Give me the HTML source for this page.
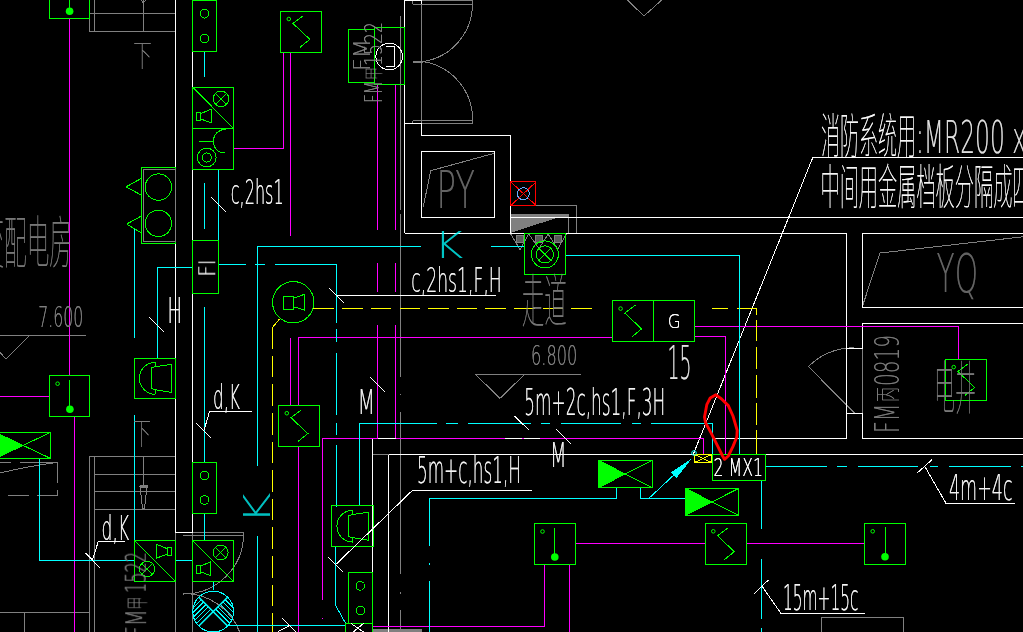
<!DOCTYPE html>
<html lang="zh"><head><meta charset="utf-8"><title>CAD</title>
<style>html,body{margin:0;padding:0;background:#000;overflow:hidden}svg{display:block}text{white-space:pre}</style>
</head><body>
<svg width="1023" height="632" viewBox="0 0 1023 632">
<defs><filter id="th" x="-5%" y="-5%" width="110%" height="110%"><feOffset dx="0.45" dy="0" result="o"/><feMerge><feMergeNode in="SourceGraphic"/><feMergeNode in="o"/></feMerge></filter></defs>
<rect width="1023" height="632" fill="#000"/>
<g shape-rendering="crispEdges" fill="none">
<line x1="89" y1="13.5" x2="176" y2="13.5" stroke="#808080" stroke-width="1"/>
<line x1="89" y1="31.5" x2="176" y2="31.5" stroke="#808080" stroke-width="1"/>
<line x1="89.5" y1="18.3" x2="89.5" y2="31.7" stroke="#808080" stroke-width="1"/>
<line x1="94.5" y1="0" x2="94.5" y2="31.7" stroke="#808080" stroke-width="1"/>
<line x1="143.5" y1="0" x2="143.5" y2="31.7" stroke="#808080" stroke-width="1"/>
<polyline points="141,0 143.3,3 145.8,0" fill="none" stroke="#808080" stroke-width="1"/>
<line x1="0" y1="335.5" x2="86" y2="335.5" stroke="#808080" stroke-width="1"/>
<polyline points="30,335 6,359 0,352.5" fill="none" stroke="#808080" stroke-width="1"/>
<line x1="400.5" y1="16" x2="400.5" y2="210" stroke="#808080" stroke-width="1"/>
<line x1="400.5" y1="213.7" x2="400.5" y2="377" stroke="#808080" stroke-width="1"/>
<line x1="400.5" y1="393.5" x2="400.5" y2="395" stroke="#808080" stroke-width="1"/>
<line x1="400.5" y1="412.2" x2="400.5" y2="574.4" stroke="#808080" stroke-width="1"/>
<line x1="400.5" y1="592" x2="400.5" y2="593.5" stroke="#808080" stroke-width="1"/>
<line x1="400.5" y1="609.7" x2="400.5" y2="632" stroke="#808080" stroke-width="1"/>
<line x1="421.5" y1="4" x2="421.5" y2="123.7" stroke="#808080" stroke-width="1"/>
<line x1="421.5" y1="0.5" x2="472.5" y2="0.5" stroke="#808080" stroke-width="1"/>
<line x1="412.7" y1="4.5" x2="472.5" y2="4.5" stroke="#808080" stroke-width="1"/>
<line x1="472.5" y1="0.7" x2="472.5" y2="4" stroke="#808080" stroke-width="1"/>
<line x1="412.5" y1="1" x2="412.5" y2="4" stroke="#808080" stroke-width="1"/>
<path d="M472.5,4 A58.3,58.3 0 0 1 423.1,61.6" fill="none" stroke="#808080" stroke-width="1"/>
<path d="M423.1,61.6 A58.3,58.3 0 0 1 472.5,120.8" fill="none" stroke="#808080" stroke-width="1"/>
<line x1="412.7" y1="120.5" x2="472.5" y2="120.5" stroke="#808080" stroke-width="1"/>
<line x1="472.5" y1="120.8" x2="472.5" y2="123" stroke="#808080" stroke-width="1"/>
<line x1="421.5" y1="123.5" x2="472.5" y2="123.5" stroke="#808080" stroke-width="1"/>
<line x1="412.5" y1="120.8" x2="412.5" y2="123.5" stroke="#808080" stroke-width="1"/>
<line x1="413.1" y1="61.6" x2="423.1" y2="61.6" stroke="#808080" stroke-width="2"/>
<polyline points="627.3,0 644,16 661.7,0" fill="none" stroke="#808080" stroke-width="1"/>
<polyline points="423.3,206.7 430.7,170.7 494.3,153.3" fill="none" stroke="#808080" stroke-width="1"/>
<rect x="510.5" y="205.5" width="66" height="28" fill="none" stroke="#808080" stroke-width="1"/>
<line x1="568.5" y1="214.5" x2="568.5" y2="233.4" stroke="#808080" stroke-width="1"/>
<polygon points="510.5,218.4 564,215 510.5,232.4" fill="#808080" stroke="#808080" stroke-width="1"/>
<rect x="510.5" y="214.5" width="58" height="2" fill="#808080" stroke="#808080" stroke-width="1"/>
<rect x="516.5" y="235.5" width="7" height="7" fill="#5a5a5a" stroke="#808080" stroke-width="1"/>
<rect x="535.5" y="235.5" width="7" height="7" fill="#5a5a5a" stroke="#808080" stroke-width="1"/>
<rect x="554.5" y="235.5" width="7" height="7" fill="#5a5a5a" stroke="#808080" stroke-width="1"/>
<polyline points="510.4,233.4 520.1,249.6 528.7,234.1 539,248.5 548.1,234.1 557.7,249.1 566.3,234.1" fill="none" stroke="#808080" stroke-width="1"/>
<line x1="475" y1="374.5" x2="580.7" y2="374.5" stroke="#808080" stroke-width="1"/>
<polyline points="475,374 500,398.3 525,374" fill="none" stroke="#808080" stroke-width="1"/>
<polyline points="862.7,305.5 880,253 1023,236.8" fill="none" stroke="#808080" stroke-width="1"/>
<line x1="862.5" y1="348.2" x2="862.5" y2="413.6" stroke="#808080" stroke-width="1"/>
<line x1="808.4" y1="366.6" x2="854.3" y2="412.8" stroke="#808080" stroke-width="1"/>
<path d="M808.4,366.6 A65,65 0 0 1 854.3,347.8" fill="none" stroke="#808080" stroke-width="1"/>
<path d="M0,472.8 Q29,466 57.2,462.3" fill="none" stroke="#808080" stroke-width="1"/>
<line x1="0" y1="462.5" x2="11.4" y2="462.5" stroke="#808080" stroke-width="1"/>
<line x1="20.2" y1="462.5" x2="57.2" y2="462.5" stroke="#808080" stroke-width="1"/>
<line x1="57.5" y1="462.2" x2="57.5" y2="483.3" stroke="#808080" stroke-width="1"/>
<line x1="57.5" y1="490.4" x2="57.5" y2="495.7" stroke="#808080" stroke-width="1"/>
<line x1="7.9" y1="495.5" x2="29" y2="495.5" stroke="#808080" stroke-width="1"/>
<line x1="37" y1="495.5" x2="57.2" y2="495.5" stroke="#808080" stroke-width="1"/>
<line x1="89.5" y1="456.4" x2="89.5" y2="632" stroke="#808080" stroke-width="1"/>
<line x1="94.5" y1="456.4" x2="94.5" y2="632" stroke="#808080" stroke-width="1"/>
<line x1="89.7" y1="456.5" x2="175.4" y2="456.5" stroke="#808080" stroke-width="1"/>
<line x1="94.7" y1="474.5" x2="175.4" y2="474.5" stroke="#808080" stroke-width="1"/>
<line x1="94.7" y1="491.5" x2="175.4" y2="491.5" stroke="#808080" stroke-width="1"/>
<line x1="94.7" y1="509.5" x2="175.4" y2="509.5" stroke="#808080" stroke-width="1"/>
<line x1="143.5" y1="456.4" x2="143.5" y2="486" stroke="#808080" stroke-width="1"/>
<polygon points="140,486.5 147,486.5 144.5,508.5 142.5,508.5" fill="none" stroke="#808080" stroke-width="1"/>
<rect x="140.5" y="485.5" width="7" height="2" fill="none" stroke="#808080" stroke-width="1"/>
<line x1="0" y1="612.5" x2="89.5" y2="612.5" stroke="#808080" stroke-width="1"/>
<line x1="24.5" y1="612.8" x2="24.5" y2="632" stroke="#808080" stroke-width="1"/>
<line x1="192.4" y1="532.5" x2="243.6" y2="532.5" stroke="#808080" stroke-width="1"/>
<line x1="183" y1="535.5" x2="243.6" y2="535.5" stroke="#808080" stroke-width="1"/>
<line x1="243.5" y1="532.4" x2="243.5" y2="535" stroke="#808080" stroke-width="1"/>
<line x1="175.5" y1="532" x2="175.5" y2="632" stroke="#808080" stroke-width="1"/>
<line x1="192.5" y1="532.4" x2="192.5" y2="632" stroke="#808080" stroke-width="1"/>
<path d="M243.6,535 A60,60 0 0 1 183.5,594" fill="none" stroke="#808080" stroke-width="1"/>
<path d="M183.5,593.5 A60,60 0 0 1 239.7,632" fill="none" stroke="#808080" stroke-width="1"/>
<rect x="372.5" y="629.5" width="49" height="4" fill="#808080" stroke="#808080" stroke-width="1"/>
<polyline points="821.5,632 821.5,617.5 903.5,617.5 903.5,632" fill="none" stroke="#808080" stroke-width="1"/>
<line x1="372.5" y1="454.5" x2="388.6" y2="454.5" stroke="#808080" stroke-width="1"/>
<line x1="175.5" y1="0" x2="175.5" y2="420" stroke="#ffffff" stroke-width="1"/>
<line x1="192.5" y1="0" x2="192.5" y2="420" stroke="#ffffff" stroke-width="1"/>
<polyline points="175.5,420 175.5,532.5 192.5,532.5 192.5,420" fill="none" stroke="#ffffff" stroke-width="1"/>
<polyline points="404.5,233.4 404.5,0.5 421.5,0.5 421.5,4" fill="none" stroke="#ffffff" stroke-width="1"/>
<line x1="404.5" y1="123.5" x2="421.5" y2="123.5" stroke="#ffffff" stroke-width="1"/>
<polyline points="421.5,123.7 421.5,135.5 510.5,135.5 510.5,233.4" fill="none" stroke="#ffffff" stroke-width="1"/>
<line x1="404.5" y1="233.5" x2="846.9" y2="233.5" stroke="#ffffff" stroke-width="1"/>
<rect x="421.5" y="151.5" width="73" height="66" fill="none" stroke="#ffffff" stroke-width="1"/>
<line x1="510.4" y1="217.5" x2="1023" y2="217.5" stroke="#ffffff" stroke-width="1"/>
<line x1="846.5" y1="233.5" x2="846.5" y2="438.5" stroke="#ffffff" stroke-width="1"/>
<line x1="713" y1="438.5" x2="846.9" y2="438.5" stroke="#ffffff" stroke-width="1"/>
<polyline points="1023,233.5 862.5,233.5 862.5,307.5 1023,307.5" fill="none" stroke="#ffffff" stroke-width="1"/>
<polyline points="1023,323.5 862.5,323.5 862.5,348.2" fill="none" stroke="#ffffff" stroke-width="1"/>
<line x1="846.9" y1="348.5" x2="862.7" y2="348.5" stroke="#ffffff" stroke-width="1"/>
<line x1="846.9" y1="413.5" x2="862.7" y2="413.5" stroke="#ffffff" stroke-width="1"/>
<polyline points="862.5,413.6 862.5,438.5 1023,438.5" fill="none" stroke="#ffffff" stroke-width="1"/>
<line x1="388.6" y1="454.5" x2="1023" y2="454.5" stroke="#ffffff" stroke-width="1"/>
<line x1="372.5" y1="438.5" x2="372.5" y2="632" stroke="#ffffff" stroke-width="1"/>
<line x1="388.5" y1="454.5" x2="388.5" y2="632" stroke="#ffffff" stroke-width="1"/>
<circle cx="389.2" cy="56.5" r="13.3" fill="none" stroke="#ffffff" stroke-width="1"/>
<polyline points="385.9,46.5 394.5,46.5 394.5,66.5 385.9,66.5" fill="none" stroke="#ffffff" stroke-width="1"/>
<line x1="813" y1="157.5" x2="1023" y2="157.5" stroke="#ffffff" stroke-width="1"/>
<line x1="813" y1="157" x2="693" y2="455" stroke="#ffffff" stroke-width="1"/>
<line x1="69.5" y1="18" x2="69.5" y2="375.7" stroke="#ff00ff" stroke-width="1"/>
<polyline points="234,148.5 283.5,148.5 283.5,52.7" fill="none" stroke="#ff00ff" stroke-width="1"/>
<line x1="290.5" y1="52.7" x2="290.5" y2="236" stroke="#ff00ff" stroke-width="1"/>
<line x1="290.5" y1="337.5" x2="290.5" y2="405.2" stroke="#ff00ff" stroke-width="1"/>
<polyline points="298.5,405.2 298.5,337.5 613.3,337.5" fill="none" stroke="#ff00ff" stroke-width="1"/>
<line x1="0" y1="396.5" x2="49.3" y2="396.5" stroke="#ff00ff" stroke-width="1"/>
<line x1="74.5" y1="416.7" x2="74.5" y2="632" stroke="#ff00ff" stroke-width="1"/>
<line x1="377.5" y1="84.7" x2="377.5" y2="229.6" stroke="#ff00ff" stroke-width="1"/>
<line x1="377.5" y1="263" x2="377.5" y2="291.9" stroke="#ff00ff" stroke-width="1"/>
<line x1="377.5" y1="325" x2="377.5" y2="438.5" stroke="#ff00ff" stroke-width="1"/>
<line x1="395.5" y1="84.7" x2="395.5" y2="229.6" stroke="#ff00ff" stroke-width="1"/>
<line x1="395.5" y1="263" x2="395.5" y2="291.9" stroke="#ff00ff" stroke-width="1"/>
<line x1="395.5" y1="325" x2="395.5" y2="438.5" stroke="#ff00ff" stroke-width="1"/>
<polyline points="340,438.5 703.5,438.5 703.5,453.5" fill="none" stroke="#ff00ff" stroke-width="1"/>
<line x1="298.5" y1="446.2" x2="298.5" y2="632" stroke="#ff00ff" stroke-width="1"/>
<polyline points="340,438.5 322.5,438.5 322.5,600" fill="none" stroke="#ff00ff" stroke-width="1"/>
<line x1="322.5" y1="617.5" x2="322.5" y2="619" stroke="#ff00ff" stroke-width="1"/>
<polyline points="694.8,326.5 958.5,326.5 958.5,359.1" fill="none" stroke="#ff00ff" stroke-width="1"/>
<polyline points="694.4,336.5 725.5,336.5 725.5,453.5" fill="none" stroke="#ff00ff" stroke-width="1"/>
<line x1="575.7" y1="543.5" x2="705" y2="543.5" stroke="#ff00ff" stroke-width="1"/>
<polyline points="544.5,564.9 544.5,626.5 372.5,626.5" fill="none" stroke="#ff00ff" stroke-width="1"/>
<line x1="569.5" y1="564.9" x2="569.5" y2="632" stroke="#ff00ff" stroke-width="1"/>
<line x1="746.4" y1="543.5" x2="864.4" y2="543.5" stroke="#ff00ff" stroke-width="1"/>
<line x1="313" y1="308.5" x2="333.6" y2="308.5" stroke="#ffff00" stroke-width="1"/>
<line x1="342.2" y1="308.5" x2="362.8" y2="308.5" stroke="#ffff00" stroke-width="1"/>
<line x1="370.8" y1="308.5" x2="391.4" y2="308.5" stroke="#ffff00" stroke-width="1"/>
<line x1="399.5" y1="308.5" x2="420.1" y2="308.5" stroke="#ffff00" stroke-width="1"/>
<line x1="428.1" y1="308.5" x2="448.7" y2="308.5" stroke="#ffff00" stroke-width="1"/>
<line x1="456.8" y1="308.5" x2="477.4" y2="308.5" stroke="#ffff00" stroke-width="1"/>
<line x1="485.4" y1="308.5" x2="506" y2="308.5" stroke="#ffff00" stroke-width="1"/>
<line x1="514.1" y1="308.5" x2="534.7" y2="308.5" stroke="#ffff00" stroke-width="1"/>
<line x1="542.7" y1="308.5" x2="563.3" y2="308.5" stroke="#ffff00" stroke-width="1"/>
<line x1="571.4" y1="308.5" x2="592" y2="308.5" stroke="#ffff00" stroke-width="1"/>
<line x1="712.3" y1="308.5" x2="728" y2="308.5" stroke="#ffff00" stroke-width="1"/>
<line x1="736.5" y1="308.5" x2="756.7" y2="308.5" stroke="#ffff00" stroke-width="1"/>
<line x1="756.5" y1="308.3" x2="756.5" y2="314.8" stroke="#ffff00" stroke-width="1"/>
<line x1="756.5" y1="320.4" x2="756.5" y2="341.1" stroke="#ffff00" stroke-width="1"/>
<line x1="756.5" y1="347" x2="756.5" y2="368.6" stroke="#ffff00" stroke-width="1"/>
<line x1="756.5" y1="374.7" x2="756.5" y2="397.6" stroke="#ffff00" stroke-width="1"/>
<line x1="756.5" y1="402.5" x2="756.5" y2="424.5" stroke="#ffff00" stroke-width="1"/>
<line x1="756.5" y1="429.9" x2="756.5" y2="453.5" stroke="#ffff00" stroke-width="1"/>
<polyline points="279.3,319.3 272.5,327.3" fill="none" stroke="#ffff00" stroke-width="1"/>
<line x1="272.5" y1="327.2" x2="272.5" y2="348.7" stroke="#ffff00" stroke-width="1"/>
<line x1="272.5" y1="355.8" x2="272.5" y2="377.3" stroke="#ffff00" stroke-width="1"/>
<line x1="272.5" y1="384.4" x2="272.5" y2="405.9" stroke="#ffff00" stroke-width="1"/>
<line x1="272.5" y1="413" x2="272.5" y2="434.5" stroke="#ffff00" stroke-width="1"/>
<line x1="272.5" y1="441.6" x2="272.5" y2="463.1" stroke="#ffff00" stroke-width="1"/>
<line x1="272.5" y1="470.2" x2="272.5" y2="491.7" stroke="#ffff00" stroke-width="1"/>
<line x1="272.5" y1="498.8" x2="272.5" y2="520.3" stroke="#ffff00" stroke-width="1"/>
<line x1="272.5" y1="527.4" x2="272.5" y2="548.9" stroke="#ffff00" stroke-width="1"/>
<line x1="272.5" y1="556" x2="272.5" y2="577.5" stroke="#ffff00" stroke-width="1"/>
<line x1="272.5" y1="584.6" x2="272.5" y2="606.1" stroke="#ffff00" stroke-width="1"/>
<line x1="272.5" y1="613.2" x2="272.5" y2="632" stroke="#ffff00" stroke-width="1"/>
<rect x="694.5" y="454.5" width="17" height="8" fill="none" stroke="#ffff00" stroke-width="1"/>
<line x1="694.5" y1="454.5" x2="711.5" y2="462.5" stroke="#ffff00" stroke-width="1"/>
<line x1="694.5" y1="462.5" x2="711.5" y2="454.5" stroke="#ffff00" stroke-width="1"/>
<line x1="204.5" y1="52" x2="204.5" y2="76.7" stroke="#00ffff" stroke-width="1"/>
<line x1="204.5" y1="183" x2="204.5" y2="229.4" stroke="#00ffff" stroke-width="1"/>
<line x1="218.5" y1="169" x2="218.5" y2="240.2" stroke="#00ffff" stroke-width="1"/>
<line x1="134.5" y1="229.4" x2="134.5" y2="338.3" stroke="#00ffff" stroke-width="1"/>
<line x1="134.5" y1="415" x2="134.5" y2="560.2" stroke="#00ffff" stroke-width="1"/>
<polyline points="193.3,267.5 157.5,267.5 157.5,358.3" fill="none" stroke="#00ffff" stroke-width="1"/>
<line x1="204.5" y1="306.7" x2="204.5" y2="462" stroke="#00ffff" stroke-width="1"/>
<line x1="204.5" y1="513.2" x2="204.5" y2="540" stroke="#00ffff" stroke-width="1"/>
<polyline points="257.5,466 257.5,246.5 421,246.5" fill="none" stroke="#00ffff" stroke-width="1"/>
<line x1="257.5" y1="535.8" x2="257.5" y2="632" stroke="#00ffff" stroke-width="1"/>
<line x1="491" y1="246.5" x2="524.4" y2="246.5" stroke="#00ffff" stroke-width="1"/>
<line x1="219" y1="264.5" x2="245.7" y2="264.5" stroke="#00ffff" stroke-width="1"/>
<line x1="254.7" y1="264.5" x2="265.2" y2="264.5" stroke="#00ffff" stroke-width="1"/>
<polyline points="274.7,264.5 336.5,264.5 336.5,323" fill="none" stroke="#00ffff" stroke-width="1"/>
<line x1="336.5" y1="329" x2="336.5" y2="342" stroke="#00ffff" stroke-width="1"/>
<line x1="336.5" y1="352.5" x2="336.5" y2="414.5" stroke="#00ffff" stroke-width="1"/>
<line x1="336.5" y1="423.4" x2="336.5" y2="435" stroke="#00ffff" stroke-width="1"/>
<line x1="336.5" y1="445" x2="336.5" y2="506.5" stroke="#00ffff" stroke-width="1"/>
<polyline points="565.7,255.5 739.5,255.5 739.5,453.5" fill="none" stroke="#00ffff" stroke-width="1"/>
<polyline points="39.5,458 39.5,560.5 134,560.5" fill="none" stroke="#00ffff" stroke-width="1"/>
<line x1="175.4" y1="560.5" x2="192.2" y2="560.5" stroke="#00ffff" stroke-width="1"/>
<line x1="213.5" y1="581.6" x2="213.5" y2="590" stroke="#00ffff" stroke-width="1"/>
<circle cx="213.2" cy="611.6" r="20.4" fill="none" stroke="#00ffff" stroke-width="1"/>
<g shape-rendering="auto">
<line x1="198.8" y1="597.2" x2="227.6" y2="626" stroke="#00ffff" stroke-width="1.6"/>
<line x1="198.8" y1="626" x2="227.6" y2="597.2" stroke="#00ffff" stroke-width="1.6"/>
<line x1="210.8" y1="609.2" x2="196.6" y2="623.4" stroke="#00ffff" stroke-width="1" shape-rendering="crispEdges"/>
<line x1="215.6" y1="609.2" x2="229.8" y2="623.4" stroke="#00ffff" stroke-width="1" shape-rendering="crispEdges"/>
<line x1="208.4" y1="606.8" x2="194.8" y2="620.4" stroke="#00ffff" stroke-width="1" shape-rendering="crispEdges"/>
<line x1="218" y1="606.8" x2="231.6" y2="620.4" stroke="#00ffff" stroke-width="1" shape-rendering="crispEdges"/>
<line x1="206" y1="604.4" x2="193.5" y2="616.9" stroke="#00ffff" stroke-width="1" shape-rendering="crispEdges"/>
<line x1="220.4" y1="604.4" x2="232.9" y2="616.9" stroke="#00ffff" stroke-width="1" shape-rendering="crispEdges"/>
<line x1="203.6" y1="602" x2="192.8" y2="612.7" stroke="#00ffff" stroke-width="1" shape-rendering="crispEdges"/>
<line x1="222.8" y1="602" x2="233.6" y2="612.7" stroke="#00ffff" stroke-width="1" shape-rendering="crispEdges"/>
<line x1="201.2" y1="599.6" x2="193.2" y2="607.6" stroke="#00ffff" stroke-width="1" shape-rendering="crispEdges"/>
<line x1="225.2" y1="599.6" x2="233.2" y2="607.6" stroke="#00ffff" stroke-width="1" shape-rendering="crispEdges"/>
</g>
<line x1="228.5" y1="625.5" x2="345.6" y2="625.5" stroke="#00ffff" stroke-width="1"/>
<polyline points="335.5,546.4 335.5,605.2 346.1,624.3" fill="none" stroke="#00ffff" stroke-width="1"/>
<polyline points="359.5,505.9 359.5,423.5 437.3,423.5" fill="none" stroke="#00ffff" stroke-width="1"/>
<line x1="446.1" y1="423.5" x2="457.9" y2="423.5" stroke="#00ffff" stroke-width="1"/>
<line x1="468.1" y1="423.5" x2="531.2" y2="423.5" stroke="#00ffff" stroke-width="1"/>
<line x1="541.4" y1="423.5" x2="550.2" y2="423.5" stroke="#00ffff" stroke-width="1"/>
<line x1="560.5" y1="423.5" x2="620.6" y2="423.5" stroke="#00ffff" stroke-width="1"/>
<line x1="632.3" y1="423.5" x2="641.1" y2="423.5" stroke="#00ffff" stroke-width="1"/>
<polyline points="651.4,423.5 712.5,423.5 712.5,454.6" fill="none" stroke="#00ffff" stroke-width="1"/>
<line x1="429.5" y1="498" x2="429.5" y2="546.4" stroke="#00ffff" stroke-width="1"/>
<line x1="429.5" y1="563.3" x2="429.5" y2="565" stroke="#00ffff" stroke-width="1"/>
<line x1="429.5" y1="580.8" x2="429.5" y2="632" stroke="#00ffff" stroke-width="1"/>
<polyline points="429.5,498.5 616.5,498.5 616.5,488" fill="none" stroke="#00ffff" stroke-width="1"/>
<polyline points="640.5,488 640.5,498.5 686,498.5" fill="none" stroke="#00ffff" stroke-width="1"/>
<line x1="648.5" y1="498.7" x2="691.2" y2="458.8" stroke="#00ffff" stroke-width="1"/>
<polygon points="692,458.2 670.8,472.4 676.4,478.2" fill="#00ffff" stroke="none"/>
<circle cx="694" cy="453" r="2.3" fill="none" stroke="#00ffff" stroke-width="1" shape-rendering="auto"/>
<line x1="765.7" y1="466.5" x2="826.6" y2="466.5" stroke="#00ffff" stroke-width="1"/>
<line x1="836.8" y1="466.5" x2="846.5" y2="466.5" stroke="#00ffff" stroke-width="1"/>
<line x1="857.6" y1="466.5" x2="918.4" y2="466.5" stroke="#00ffff" stroke-width="1"/>
<line x1="929.5" y1="466.5" x2="938.3" y2="466.5" stroke="#00ffff" stroke-width="1"/>
<line x1="948.9" y1="466.5" x2="1011.1" y2="466.5" stroke="#00ffff" stroke-width="1"/>
<line x1="1020.8" y1="466.5" x2="1023" y2="466.5" stroke="#00ffff" stroke-width="1"/>
<line x1="761.5" y1="480.3" x2="761.5" y2="529.3" stroke="#00ffff" stroke-width="1"/>
<line x1="761.5" y1="558.7" x2="761.5" y2="618.5" stroke="#00ffff" stroke-width="1"/>
<line x1="761.5" y1="627.9" x2="761.5" y2="632" stroke="#00ffff" stroke-width="1"/>
<rect x="49.5" y="-22.5" width="40" height="41" fill="none" stroke="#00ff00" stroke-width="1"/>
<line x1="69.5" y1="-18.2" x2="69.5" y2="8.8" stroke="#00ff00" stroke-width="1"/>
<circle cx="69.6" cy="11.3" r="3.8" fill="#00ff00" shape-rendering="auto"/>
<circle cx="57.3" cy="-14.2" r="1.8" fill="none" stroke="#00ff00" stroke-width="1" shape-rendering="auto"/>
<rect x="192.5" y="0.5" width="24" height="51" fill="none" stroke="#00ff00" stroke-width="1"/>
<circle cx="204.5" cy="13.8" r="4.3" fill="none" stroke="#00ff00" stroke-width="1"/>
<circle cx="204.5" cy="38.5" r="4.3" fill="none" stroke="#00ff00" stroke-width="1"/>
<rect x="280.5" y="11.5" width="41" height="41" fill="none" stroke="#00ff00" stroke-width="1"/>
<circle cx="288.8" cy="19" r="1.8" fill="none" stroke="#00ff00" stroke-width="1" shape-rendering="auto"/>
<polyline points="303.5,15.5 293,23.5 309.8,39.3 299.8,47.5" fill="none" stroke="#00ff00" stroke-width="1"/>
<rect x="192.5" y="87.5" width="41" height="41" fill="none" stroke="#00ff00" stroke-width="1"/>
<line x1="192.7" y1="87.3" x2="233.7" y2="128.5" stroke="#00ff00" stroke-width="1"/>
<circle cx="221" cy="98.8" r="7.8" fill="none" stroke="#00ff00" stroke-width="1"/>
<line x1="215.5" y1="93.3" x2="226.5" y2="104.3" stroke="#00ff00" stroke-width="1"/>
<line x1="215.5" y1="104.3" x2="226.5" y2="93.3" stroke="#00ff00" stroke-width="1"/>
<polygon points="196.5,112.5 200.5,112.5 200.5,120.5 196.5,120.5" fill="none" stroke="#00ff00" stroke-width="1"/>
<polyline points="200.7,113.6 211.5,109.1 211.5,122.9 200.7,119" fill="none" stroke="#00ff00" stroke-width="1"/>
<rect x="192.5" y="128.5" width="41" height="41" fill="none" stroke="#00ff00" stroke-width="1"/>
<line x1="198.9" y1="141.5" x2="212.9" y2="141.5" stroke="#00ff00" stroke-width="1"/>
<path d="M226.3,129.5 A12,12 0 0 0 221,152.7 L225,152.7" fill="none" stroke="#00ff00" stroke-width="1"/>
<circle cx="206.7" cy="157.5" r="9.4" fill="none" stroke="#00ff00" stroke-width="1"/>
<circle cx="206.7" cy="157.5" r="4.6" fill="none" stroke="#00ff00" stroke-width="1"/>
<rect x="141.5" y="167.5" width="34" height="76" fill="none" stroke="#00ff00" stroke-width="1"/>
<rect x="143.5" y="169.5" width="32" height="72" fill="none" stroke="#808080" stroke-width="1"/>
<circle cx="158.4" cy="187.1" r="13.2" fill="none" stroke="#00ff00" stroke-width="1"/>
<circle cx="158.4" cy="223.4" r="13.2" fill="none" stroke="#00ff00" stroke-width="1"/>
<polyline points="141.5,178.3 126,186.9 141.5,195.2" fill="none" stroke="#00ff00" stroke-width="1"/>
<polyline points="141.5,216 126.7,224 141.5,233" fill="none" stroke="#00ff00" stroke-width="1"/>
<rect x="192.5" y="240.5" width="26" height="53" fill="none" stroke="#00ff00" stroke-width="1"/>
<circle cx="293.3" cy="302.3" r="20.7" fill="none" stroke="#00ff00" stroke-width="1"/>
<polygon points="283.5,296.5 293.5,296.5 293.5,309.5 283.5,309.5" fill="none" stroke="#00ff00" stroke-width="1"/>
<polyline points="293.3,298.3 304.5,294.3 304.5,310 293.3,306.7" fill="none" stroke="#00ff00" stroke-width="1"/>
<rect x="49.5" y="375.5" width="40" height="41" fill="none" stroke="#00ff00" stroke-width="1"/>
<line x1="69.5" y1="379.7" x2="69.5" y2="406.7" stroke="#00ff00" stroke-width="1"/>
<circle cx="69.9" cy="409.2" r="3.8" fill="#00ff00" shape-rendering="auto"/>
<circle cx="57.6" cy="383.7" r="1.8" fill="none" stroke="#00ff00" stroke-width="1" shape-rendering="auto"/>
<rect x="134.5" y="358.5" width="41" height="40" fill="none" stroke="#00ff00" stroke-width="1"/>
<path d="M155.4,362.3 A16,16 0 0 0 155.4,394.3" fill="none" stroke="#00ff00" stroke-width="1"/>
<polyline points="155.5,362.3 155.5,366.7 151.5,367.8 151.5,388.7 155.5,389.8 155.5,394.3" fill="none" stroke="#00ff00" stroke-width="1"/>
<polyline points="155.4,366.7 171.5,364.3 171.5,392.4 155.4,389.8" fill="none" stroke="#00ff00" stroke-width="1"/>
<rect x="278.5" y="405.5" width="41" height="41" fill="none" stroke="#00ff00" stroke-width="1"/>
<circle cx="286.8" cy="413.2" r="1.8" fill="none" stroke="#00ff00" stroke-width="1" shape-rendering="auto"/>
<polyline points="301.5,409.7 291,417.7 307.8,433.5 297.8,441.7" fill="none" stroke="#00ff00" stroke-width="1"/>
<rect x="348.5" y="29.5" width="26" height="53" fill="none" stroke="#00ff00" stroke-width="1"/>
<rect x="374.5" y="27.5" width="30" height="57" fill="none" stroke="#00ff00" stroke-width="1"/>
<rect x="510.5" y="181.5" width="25" height="24" fill="none" stroke="#ff0000" stroke-width="1"/>
<line x1="510.9" y1="181.9" x2="536.1" y2="205.5" stroke="#ff0000" stroke-width="1"/>
<line x1="510.9" y1="205.5" x2="536.1" y2="181.9" stroke="#ff0000" stroke-width="1"/>
<circle cx="523.3" cy="193.7" r="6" fill="none" stroke="#66aaff" stroke-width="1"/>
<rect x="524.5" y="233.5" width="41" height="41" fill="none" stroke="#00ff00" stroke-width="1"/>
<circle cx="544.9" cy="254.4" r="13.5" fill="none" stroke="#00ff00" stroke-width="1"/>
<circle cx="544.9" cy="254.4" r="8.6" fill="none" stroke="#00ff00" stroke-width="1"/>
<line x1="538.8" y1="248.3" x2="551" y2="260.5" stroke="#00ff00" stroke-width="1"/>
<line x1="538.8" y1="260.5" x2="551" y2="248.3" stroke="#00ff00" stroke-width="1"/>
<rect x="612.5" y="300.5" width="41" height="41" fill="none" stroke="#00ff00" stroke-width="1"/>
<circle cx="620.6" cy="308.6" r="1.8" fill="none" stroke="#00ff00" stroke-width="1" shape-rendering="auto"/>
<polyline points="635.3,305.1 624.8,313.1 641.6,328.9 631.6,337.1" fill="none" stroke="#00ff00" stroke-width="1"/>
<rect x="653.5" y="300.5" width="41" height="41" fill="none" stroke="#00ff00" stroke-width="1"/>
<rect x="945.5" y="359.5" width="41" height="41" fill="none" stroke="#00ff00" stroke-width="1"/>
<circle cx="953.7" cy="367.1" r="1.8" fill="none" stroke="#00ff00" stroke-width="1" shape-rendering="auto"/>
<polyline points="968.4,363.6 957.9,371.6 974.7,387.4 964.7,395.6" fill="none" stroke="#00ff00" stroke-width="1"/>
<rect x="-4.5" y="432.5" width="55" height="26" fill="none" stroke="#00ff00" stroke-width="1"/>
<line x1="-4.6" y1="432.3" x2="50.7" y2="458.5" stroke="#00ff00" stroke-width="1"/>
<line x1="-4.6" y1="458.5" x2="50.7" y2="432.3" stroke="#00ff00" stroke-width="1"/>
<polygon points="-4.5,432.3 23,445.4 -4.5,458.5" fill="#00ff00" stroke="#00ff00" stroke-width="1"/>
<rect x="192.5" y="462.5" width="24" height="51" fill="none" stroke="#00ff00" stroke-width="1"/>
<circle cx="204.5" cy="475.3" r="4.3" fill="none" stroke="#00ff00" stroke-width="1"/>
<circle cx="204.5" cy="500" r="4.3" fill="none" stroke="#00ff00" stroke-width="1"/>
<rect x="134.5" y="540.5" width="41" height="41" fill="none" stroke="#00ff00" stroke-width="1"/>
<line x1="134" y1="540" x2="175.4" y2="581.6" stroke="#00ff00" stroke-width="1"/>
<circle cx="147.1" cy="568.9" r="7.6" fill="none" stroke="#00ff00" stroke-width="1"/>
<line x1="141.7" y1="563.5" x2="152.5" y2="574.3" stroke="#00ff00" stroke-width="1"/>
<line x1="141.7" y1="574.3" x2="152.5" y2="563.5" stroke="#00ff00" stroke-width="1"/>
<polygon points="171.5,547.5 167.5,547.5 167.5,555.5 171.5,555.5" fill="none" stroke="#00ff00" stroke-width="1"/>
<polyline points="167.5,548.8 156.5,544.3 156.5,558.1 167.5,554.2" fill="none" stroke="#00ff00" stroke-width="1"/>
<rect x="192.5" y="540.5" width="41" height="41" fill="none" stroke="#00ff00" stroke-width="1"/>
<line x1="192.2" y1="540" x2="233.7" y2="581.6" stroke="#00ff00" stroke-width="1"/>
<circle cx="220.7" cy="552.5" r="7.5" fill="none" stroke="#00ff00" stroke-width="1"/>
<line x1="215.4" y1="547.2" x2="226" y2="557.8" stroke="#00ff00" stroke-width="1"/>
<line x1="215.4" y1="557.8" x2="226" y2="547.2" stroke="#00ff00" stroke-width="1"/>
<polygon points="196.5,565.5 200.5,565.5 200.5,573.5 196.5,573.5" fill="none" stroke="#00ff00" stroke-width="1"/>
<polyline points="200.2,566.3 210.5,561.8 210.5,575.6 200.2,571.7" fill="none" stroke="#00ff00" stroke-width="1"/>
<rect x="331.5" y="505.5" width="42" height="41" fill="none" stroke="#00ff00" stroke-width="1"/>
<path d="M352.9,510.1 A16,16 0 0 0 352.9,542.1" fill="none" stroke="#00ff00" stroke-width="1"/>
<polyline points="352.5,510.1 352.5,514.5 348.5,515.6 348.5,536.5 352.5,537.6 352.5,542.1" fill="none" stroke="#00ff00" stroke-width="1"/>
<polyline points="352.9,514.5 368.5,512.1 368.5,540.2 352.9,537.6" fill="none" stroke="#00ff00" stroke-width="1"/>
<rect x="348.5" y="572.5" width="24" height="51" fill="none" stroke="#00ff00" stroke-width="1"/>
<circle cx="360.4" cy="585.9" r="4.3" fill="none" stroke="#00ff00" stroke-width="1"/>
<circle cx="360.4" cy="610.6" r="4.3" fill="none" stroke="#00ff00" stroke-width="1"/>
<rect x="345.5" y="623.5" width="27" height="17" fill="none" stroke="#00ff00" stroke-width="1"/>
<line x1="350.8" y1="623.3" x2="363.6" y2="632" stroke="#ffffff" stroke-width="1"/>
<line x1="363.6" y1="623.3" x2="353.3" y2="632" stroke="#ffffff" stroke-width="1"/>
<rect x="598.5" y="460.5" width="54" height="27" fill="none" stroke="#00ff00" stroke-width="1"/>
<line x1="598.1" y1="460.3" x2="652.1" y2="487.7" stroke="#00ff00" stroke-width="1"/>
<line x1="598.1" y1="487.7" x2="652.1" y2="460.3" stroke="#00ff00" stroke-width="1"/>
<polygon points="598.5,460.3 625.1,474 598.5,487.7" fill="#00ff00" stroke="#00ff00" stroke-width="1"/>
<rect x="534.5" y="523.5" width="41" height="41" fill="none" stroke="#00ff00" stroke-width="1"/>
<line x1="554.5" y1="527.5" x2="554.5" y2="554.5" stroke="#00ff00" stroke-width="1"/>
<circle cx="554.8" cy="557" r="3.8" fill="#00ff00" shape-rendering="auto"/>
<circle cx="542.5" cy="531.5" r="1.8" fill="none" stroke="#00ff00" stroke-width="1" shape-rendering="auto"/>
<rect x="685.5" y="488.5" width="53" height="27" fill="none" stroke="#00ff00" stroke-width="1"/>
<line x1="685.2" y1="488.4" x2="738.7" y2="515.4" stroke="#00ff00" stroke-width="1"/>
<line x1="685.2" y1="515.4" x2="738.7" y2="488.4" stroke="#00ff00" stroke-width="1"/>
<polygon points="685.5,488.4 712,501.9 685.5,515.4" fill="#00ff00" stroke="#00ff00" stroke-width="1"/>
<rect x="712.5" y="454.5" width="53" height="26" fill="none" stroke="#00ff00" stroke-width="1"/>
<rect x="705.5" y="523.5" width="41" height="41" fill="none" stroke="#00ff00" stroke-width="1"/>
<circle cx="713.3" cy="531.3" r="1.8" fill="none" stroke="#00ff00" stroke-width="1" shape-rendering="auto"/>
<polyline points="728,527.8 717.5,535.8 734.3,551.6 724.3,559.8" fill="none" stroke="#00ff00" stroke-width="1"/>
<rect x="864.5" y="523.5" width="41" height="41" fill="none" stroke="#00ff00" stroke-width="1"/>
<line x1="885.5" y1="527.3" x2="885.5" y2="554.3" stroke="#00ff00" stroke-width="1"/>
<circle cx="885" cy="556.8" r="3.8" fill="#00ff00" shape-rendering="auto"/>
<circle cx="872.7" cy="531.3" r="1.8" fill="none" stroke="#00ff00" stroke-width="1" shape-rendering="auto"/>
<line x1="211" y1="197" x2="225.8" y2="212" stroke="#ffffff" stroke-width="1"/>
<line x1="149" y1="317.3" x2="164" y2="332.3" stroke="#ffffff" stroke-width="1"/>
<line x1="336.6" y1="295.5" x2="496.4" y2="295.5" stroke="#ffffff" stroke-width="1"/>
<line x1="328.8" y1="288" x2="344" y2="303" stroke="#ffffff" stroke-width="1"/>
<line x1="370.5" y1="377.5" x2="385" y2="392" stroke="#ffffff" stroke-width="1"/>
<polyline points="252.3,411.5 209.5,411.5 204,430.5" fill="none" stroke="#ffffff" stroke-width="1"/>
<line x1="196.1" y1="423.3" x2="211" y2="437.7" stroke="#ffffff" stroke-width="1"/>
<polyline points="125,541.5 98.3,541.5 92.2,560.8" fill="none" stroke="#ffffff" stroke-width="1"/>
<line x1="85.5" y1="553" x2="99.6" y2="567.5" stroke="#ffffff" stroke-width="1"/>
<polyline points="531.8,490.5 412.3,490.5 335.9,564.4" fill="none" stroke="#ffffff" stroke-width="1"/>
<line x1="328.2" y1="557.2" x2="343.1" y2="571.8" stroke="#ffffff" stroke-width="1"/>
<line x1="282.2" y1="618.1" x2="295.7" y2="631.6" stroke="#ffffff" stroke-width="1"/>
<line x1="278.1" y1="631.6" x2="289.2" y2="625.7" stroke="#ffffff" stroke-width="1"/>
<line x1="514.5" y1="416.1" x2="529.1" y2="430.2" stroke="#ffffff" stroke-width="1"/>
<line x1="556.1" y1="429.3" x2="570.8" y2="444" stroke="#ffffff" stroke-width="1"/>
<line x1="504.8" y1="438.5" x2="522.4" y2="438.5" stroke="#ffffff" stroke-width="1"/>
<line x1="523.8" y1="438.5" x2="540" y2="438.5" stroke="#ffffff" stroke-width="1"/>
<line x1="378" y1="438.5" x2="395.5" y2="438.5" stroke="#ffffff" stroke-width="1"/>
<polyline points="1014.7,503.5 946.1,503.5 924.8,466.3" fill="none" stroke="#ffffff" stroke-width="1"/>
<line x1="917" y1="473.2" x2="932.3" y2="459.4" stroke="#ffffff" stroke-width="1"/>
<polyline points="864.8,613.5 781,613.5 761.6,585.6" fill="none" stroke="#ffffff" stroke-width="1"/>
<line x1="754" y1="593.8" x2="768.6" y2="579.8" stroke="#ffffff" stroke-width="1"/>
<path d="M715.9,394.8 L721.6,399 L728.3,405.6 L733,416 L737.2,430.3 L736.8,437 L733,446.4 L728.3,456 L724.5,459.3 L722.6,456 L717.8,446.4 L711.2,433.1 L705.5,422.7 L704.5,417 L706.8,404.7 L710.2,398 Z" fill="none" stroke="#ff0000" stroke-width="2.9" shape-rendering="auto" stroke-linejoin="round"/>
</g>
<g id="txt" opacity="0.995">
<text x="230.7" y="203.5" font-family='"DejaVu Sans Light","DejaVu Sans","Liberation Sans",sans-serif' font-size="33.8" font-weight="200" fill="#ffffff" fill-opacity="0.85" textLength="53" lengthAdjust="spacingAndGlyphs" filter="url(#th)">c,2hs1</text>
<text x="411.3" y="291.5" font-family='"DejaVu Sans Light","DejaVu Sans","Liberation Sans",sans-serif' font-size="34.5" font-weight="200" fill="#ffffff" fill-opacity="0.82" textLength="90.5" lengthAdjust="spacingAndGlyphs" filter="url(#th)">c,2hs1,F,H</text>
<text x="524.3" y="414.5" font-family='"DejaVu Sans Light","DejaVu Sans","Liberation Sans",sans-serif' font-size="36.6" font-weight="200" fill="#ffffff" fill-opacity="0.80" textLength="141" lengthAdjust="spacingAndGlyphs" filter="url(#th)">5m+2c,hs1,F,3H</text>
<text x="417" y="482.5" font-family='"DejaVu Sans Light","DejaVu Sans","Liberation Sans",sans-serif' font-size="36.6" font-weight="200" fill="#ffffff" fill-opacity="0.80" textLength="104" lengthAdjust="spacingAndGlyphs" filter="url(#th)">5m+c,hs1,H</text>
<text x="213" y="409" font-family='"DejaVu Sans Light","DejaVu Sans","Liberation Sans",sans-serif' font-size="34.5" font-weight="200" fill="#ffffff" fill-opacity="0.83" textLength="27" lengthAdjust="spacingAndGlyphs" filter="url(#th)">d,K</text>
<text x="101.6" y="540" font-family='"DejaVu Sans Light","DejaVu Sans","Liberation Sans",sans-serif' font-size="34.5" font-weight="200" fill="#ffffff" fill-opacity="0.82" textLength="27.5" lengthAdjust="spacingAndGlyphs" filter="url(#th)">d,K</text>
<text x="357.6" y="414.3" font-family='"DejaVu Sans Light","DejaVu Sans","Liberation Sans",sans-serif' font-size="34.6" font-weight="200" fill="#ffffff" fill-opacity="0.77" textLength="17.6" lengthAdjust="spacingAndGlyphs" filter="url(#th)">M</text>
<text x="549.9" y="467.2" font-family='"DejaVu Sans Light","DejaVu Sans","Liberation Sans",sans-serif' font-size="34.4" font-weight="200" fill="#ffffff" fill-opacity="0.79" textLength="16.6" lengthAdjust="spacingAndGlyphs" filter="url(#th)">M</text>
<text x="167.2" y="323" font-family='"DejaVu Sans Light","DejaVu Sans","Liberation Sans",sans-serif' font-size="34.8" font-weight="200" fill="#ffffff" fill-opacity="0.78" textLength="15" lengthAdjust="spacingAndGlyphs" filter="url(#th)">H</text>
<text x="667.5" y="378.5" font-family='"DejaVu Sans Light","DejaVu Sans","Liberation Sans",sans-serif' font-size="47" font-weight="200" fill="#ffffff" fill-opacity="0.68" textLength="24" lengthAdjust="spacingAndGlyphs" filter="url(#th)">15</text>
<text x="667.7" y="327.9" font-family='"DejaVu Sans Light","DejaVu Sans","Liberation Sans",sans-serif' font-size="19.2" font-weight="200" fill="#ffffff" textLength="13" lengthAdjust="spacingAndGlyphs" filter="url(#th)">G</text>
<text x="713.5" y="475.5" font-family='"DejaVu Sans Light","DejaVu Sans","Liberation Sans",sans-serif' font-size="23.9" font-weight="200" fill="#ffffff" textLength="49.5" lengthAdjust="spacingAndGlyphs" filter="url(#th)">2 MX1</text>
<text x="949" y="500.3" font-family='"DejaVu Sans Light","DejaVu Sans","Liberation Sans",sans-serif' font-size="35.9" font-weight="200" fill="#ffffff" fill-opacity="0.80" textLength="63.5" lengthAdjust="spacingAndGlyphs" filter="url(#th)">4m+4c</text>
<text x="783" y="610.3" font-family='"DejaVu Sans Light","DejaVu Sans","Liberation Sans",sans-serif' font-size="36.3" font-weight="200" fill="#ffffff" fill-opacity="0.83" textLength="75.5" lengthAdjust="spacingAndGlyphs" filter="url(#th)">15m+15c</text>
<text x="215" y="276.7" font-family='"DejaVu Sans Light","DejaVu Sans","Liberation Sans",sans-serif' font-size="22.5" font-weight="200" fill="#ffffff" fill-opacity="0.93" textLength="17.5" lengthAdjust="spacingAndGlyphs" filter="url(#th)" transform="rotate(-90 215 276.7)">FI</text>
<text x="434.3" y="258" font-family='"DejaVu Sans Light","DejaVu Sans","Liberation Sans",sans-serif' font-size="37.3" font-weight="200" fill="#00ffff" fill-opacity="0.53" textLength="29" lengthAdjust="spacingAndGlyphs" filter="url(#th)">K</text>
<text x="270" y="524" font-family='"DejaVu Sans Light","DejaVu Sans","Liberation Sans",sans-serif' font-size="38" font-weight="200" fill="#00ffff" fill-opacity="0.51" textLength="31.5" lengthAdjust="spacingAndGlyphs" filter="url(#th)" transform="rotate(-90 270 524)">K</text>
<text x="821" y="152.7" font-family='"Liberation Sans","Noto Sans CJK SC",sans-serif' font-size="47.8" font-weight="100" fill="#ffffff" fill-opacity="0.86" textLength="95" lengthAdjust="spacingAndGlyphs" filter="url(#th)">消防系统用</text>
<text x="916" y="153.3" font-family='"DejaVu Sans Light","DejaVu Sans","Liberation Sans",sans-serif' font-size="44.4" font-weight="200" fill="#ffffff" fill-opacity="0.65" textLength="110" lengthAdjust="spacingAndGlyphs" filter="url(#th)">:MR200 x</text>
<text x="820.5" y="203.9" font-family='"Liberation Sans","Noto Sans CJK SC",sans-serif' font-size="48.3" font-weight="100" fill="#ffffff" fill-opacity="0.85" textLength="211" lengthAdjust="spacingAndGlyphs" filter="url(#th)">中间用金属档板分隔成四</text>
<text x="-18.5" y="263.2" font-family='"Liberation Sans","Noto Sans CJK SC",sans-serif' font-size="56.7" font-weight="100" fill="#808080" fill-opacity="0.74" textLength="90.5" lengthAdjust="spacingAndGlyphs" filter="url(#th)">变配电房</text>
<text x="38.3" y="326.7" font-family='"DejaVu Sans Light","DejaVu Sans","Liberation Sans",sans-serif' font-size="28.2" font-weight="200" fill="#808080" fill-opacity="0.93" textLength="45" lengthAdjust="spacingAndGlyphs" filter="url(#th)">7.600</text>
<text x="531" y="365" font-family='"DejaVu Sans Light","DejaVu Sans","Liberation Sans",sans-serif' font-size="26.8" font-weight="200" fill="#808080" fill-opacity="0.95" textLength="46.3" lengthAdjust="spacingAndGlyphs" filter="url(#th)">6.800</text>
<text x="436.5" y="208" font-family='"DejaVu Sans Light","DejaVu Sans","Liberation Sans",sans-serif' font-size="51.4" font-weight="200" fill="#808080" fill-opacity="0.54" textLength="38.5" lengthAdjust="spacingAndGlyphs" filter="url(#th)">PY</text>
<text x="936.5" y="291.5" font-family='"DejaVu Sans Light","DejaVu Sans","Liberation Sans",sans-serif' font-size="54.2" font-weight="200" fill="#808080" fill-opacity="0.54" textLength="41.5" lengthAdjust="spacingAndGlyphs" filter="url(#th)">YQ</text>
<text x="521.7" y="322.2" font-family='"Liberation Sans","Noto Sans CJK SC",sans-serif' font-size="57.8" font-weight="100" fill="#808080" fill-opacity="0.73" textLength="45" lengthAdjust="spacingAndGlyphs" filter="url(#th)">走道</text>
<text x="133.3" y="65.5" font-family='"Liberation Sans","Noto Sans CJK SC",sans-serif' font-size="29.4" font-weight="100" fill="#808080" textLength="18.5" lengthAdjust="spacingAndGlyphs" filter="url(#th)">下</text>
<text x="133.2" y="444.4" font-family='"Liberation Sans","Noto Sans CJK SC",sans-serif' font-size="30" font-weight="100" fill="#808080" textLength="17.5" lengthAdjust="spacingAndGlyphs" filter="url(#th)">下</text>
<text x="934" y="409.2" font-family='"Liberation Sans","Noto Sans CJK SC",sans-serif' font-size="57.8" font-weight="100" fill="#808080" fill-opacity="0.75" textLength="42" lengthAdjust="spacingAndGlyphs" filter="url(#th)">电井</text>
<text x="382" y="103" font-family='"DejaVu Sans Light","DejaVu Sans","Liberation Sans",sans-serif' font-size="24.6" font-weight="200" fill="#808080" textLength="22" lengthAdjust="spacingAndGlyphs" filter="url(#th)" transform="rotate(-90 382 103)">FM</text>
<text x="382" y="80" font-family='"Liberation Sans","Noto Sans CJK SC",sans-serif' font-size="18.9" font-weight="100" fill="#808080" textLength="13" lengthAdjust="spacingAndGlyphs" filter="url(#th)" transform="rotate(-90 382 80) translate(0 -1.4)">甲</text>
<text x="382" y="66" font-family='"DejaVu Sans Light","DejaVu Sans","Liberation Sans",sans-serif' font-size="24.6" font-weight="200" fill="#808080" fill-opacity="0.96" textLength="44" lengthAdjust="spacingAndGlyphs" filter="url(#th)" transform="rotate(-90 382 66)">1522</text>
<text x="370" y="71" font-family='"DejaVu Sans Light","DejaVu Sans","Liberation Sans",sans-serif' font-size="23.4" font-weight="200" fill="#808080" fill-opacity="0.88" textLength="32" lengthAdjust="spacingAndGlyphs" filter="url(#th)" transform="rotate(-90 370 71)">FM</text>
<text x="145.7" y="637.5" font-family='"DejaVu Sans Light","DejaVu Sans","Liberation Sans",sans-serif' font-size="27.7" font-weight="200" fill="#808080" fill-opacity="0.87" textLength="28" lengthAdjust="spacingAndGlyphs" filter="url(#th)" transform="rotate(-90 145.7 637.5)">FM</text>
<text x="145.7" y="609.5" font-family='"Liberation Sans","Noto Sans CJK SC",sans-serif' font-size="21.7" font-weight="100" fill="#808080" textLength="13" lengthAdjust="spacingAndGlyphs" filter="url(#th)" transform="rotate(-90 145.7 609.5) translate(0 -1.6)">甲</text>
<text x="145.7" y="593" font-family='"DejaVu Sans Light","DejaVu Sans","Liberation Sans",sans-serif' font-size="27.7" font-weight="200" fill="#808080" fill-opacity="0.93" textLength="41" lengthAdjust="spacingAndGlyphs" filter="url(#th)" transform="rotate(-90 145.7 593)">1522</text>
<text x="899" y="433" font-family='"DejaVu Sans Light","DejaVu Sans","Liberation Sans",sans-serif' font-size="33" font-weight="200" fill="#808080" fill-opacity="0.79" textLength="29.5" lengthAdjust="spacingAndGlyphs" filter="url(#th)" transform="rotate(-90 899 433)">FM</text>
<text x="899" y="402" font-family='"Liberation Sans","Noto Sans CJK SC",sans-serif' font-size="26.1" font-weight="100" fill="#808080" textLength="15" lengthAdjust="spacingAndGlyphs" filter="url(#th)" transform="rotate(-90 899 402) translate(0 -2)">丙</text>
<text x="899" y="386" font-family='"DejaVu Sans Light","DejaVu Sans","Liberation Sans",sans-serif' font-size="33" font-weight="200" fill="#808080" fill-opacity="0.80" textLength="51" lengthAdjust="spacingAndGlyphs" filter="url(#th)" transform="rotate(-90 899 386)">0819</text>
</g>
</svg>
</body></html>
